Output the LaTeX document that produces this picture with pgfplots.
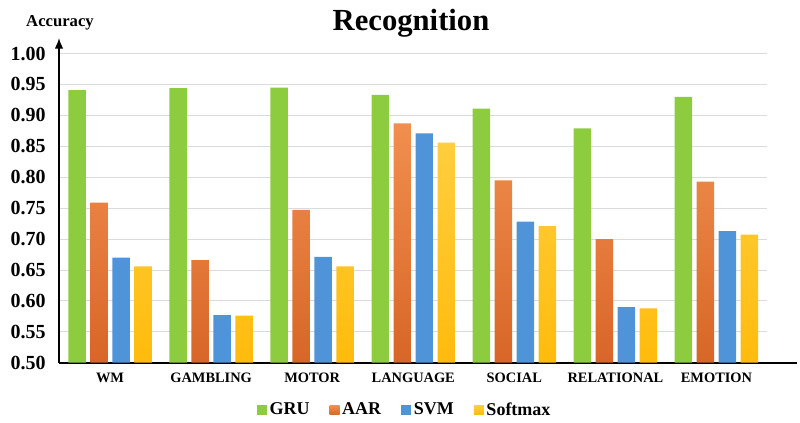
\documentclass[border=0pt]{standalone}
\usepackage{pgfplots}
\pgfplotsset{compat=1.18}
\usepackage{fontspec}
\setmainfont{Liberation Serif}
\usetikzlibrary{arrows.meta}
\definecolor{cgru}{HTML}{8DCB3F}
\definecolor{caar}{HTML}{EE7B30}
\definecolor{csvm}{HTML}{4F93D8}
\definecolor{csoft}{HTML}{FFC20E}
\begin{document}
\begin{tikzpicture}
\begin{axis}[
  at={(44.25pt,45.2pt)}, anchor=south west,
  scale only axis, width=531pt, height=243.5pt,
  xmin=-0.505, xmax=6.5, ymin=0.5, ymax=1.025,
  axis x line*=bottom, axis y line=left,
  x axis line style={line width=1.3pt, shorten >=-22.5pt},
  y axis line style={line width=1.1pt, -{Latex[length=8pt,width=6.5pt]}},
  ytick={0.5,0.55,...,1.001},
  xtick=data,
  xticklabels={WM,GAMBLING,MOTOR,LANGUAGE,SOCIAL,RELATIONAL,EMOTION},
  major tick length=0pt,
  ymajorgrids, grid style={gray!28, line width=0.6pt},
  /pgf/number format/assume math mode=true,
  yticklabel={\pgfmathprintnumber[fixed,fixed zerofill,precision=2]{\tick}},
  yticklabel style={font=\fontsize{15}{15}\selectfont\bfseries, xshift=-6.5pt},
  xticklabel style={font=\fontsize{10.8}{10.8}\selectfont\bfseries, yshift=-4pt},
  ybar, bar width=13.1pt,
  legend columns=4,
  legend style={at={(0.4887,-0.1457)}, anchor=center, draw=none, fill=none,
    font=\fontsize{13.5}{13.5}\selectfont\bfseries,
    /tikz/every even column/.append style={column sep=13pt},
    inner sep=0pt},
  legend image code/.code={\path[#1, draw=none] (0pt,-3.6pt) rectangle (7.5pt,3.6pt);},
  clip=true,
]
\addplot[draw=none, fill=cgru, bar shift=-24.75pt] coordinates {(0,0.941) (1,0.944) (2,0.945) (3,0.933) (4,0.911) (5,0.879) (6,0.930)};
\addlegendentry{GRU}
\addplot[draw=none, top color=caar!85!white, bottom color=caar!92!red!90!black, bar shift=-8.25pt] coordinates {(0,0.759) (1,0.666) (2,0.747) (3,0.887) (4,0.795) (5,0.700) (6,0.793)};
\addlegendentry{AAR}
\addplot[draw=none, fill=csvm, bar shift=8.25pt] coordinates {(0,0.670) (1,0.577) (2,0.671) (3,0.871) (4,0.728) (5,0.590) (6,0.713)};
\addlegendentry{SVM}
\addplot[draw=none, top color=csoft!80!white, bottom color=csoft!90!orange, bar shift=24.75pt] coordinates {(0,0.656) (1,0.576) (2,0.656) (3,0.856) (4,0.721) (5,0.588) (6,0.707)};
\addlegendentry{Softmax}
\end{axis}
\node[font=\fontsize{23}{23}\selectfont\bfseries] at (308.25pt,300pt) {Recognition};
\node[font=\fontsize{12.5}{12.5}\selectfont\bfseries] at (45pt,300.5pt) {Accuracy};
\pgfresetboundingbox
\path[use as bounding box] (0,0) rectangle (600pt,317.25pt);
\end{tikzpicture}
\end{document}
